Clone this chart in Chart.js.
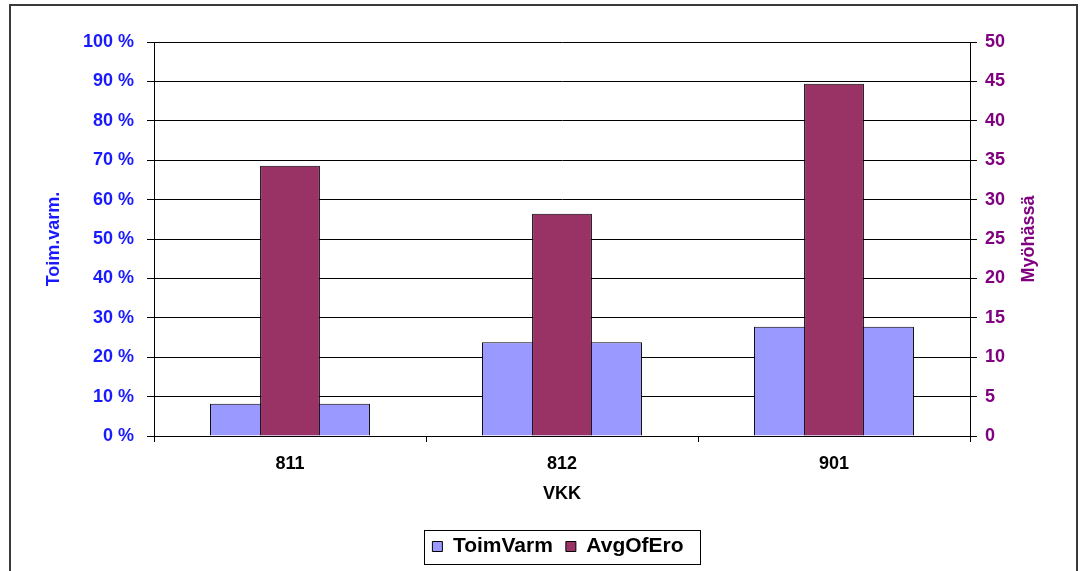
<!DOCTYPE html>
<html>
<head>
<meta charset="utf-8">
<script src="https://cdn.jsdelivr.net/npm/chart.js@4/dist/chart.umd.min.js"></script>
<style>
  html, body { margin: 0; padding: 0; background: #ffffff; }
  #wrap { width: 1082px; height: 571px; position: relative; }
</style>
</head>
<body>
<div id="wrap"><canvas id="c" width="1082" height="571"></canvas></div>
<script>
// Weeks (VKK) on the category axis
const categories = ['811', '812', '901'];
// Delivery reliability, percent (left axis)
const toimVarm = [8.2, 23.8, 27.7];
// Average lateness (right axis)
const avgOfEro = [34.3, 28.2, 44.7];
// Axis ranges and tick steps
const leftTicks = { min: 0, max: 100, step: 10 };
const rightTicks = { min: 0, max: 50, step: 5 };

const FONT = "'Liberation Sans', Arial, sans-serif";
const BLUE = '#1a1aff';
const PURPLE = '#800080';

// Outer frame, right-axis title and the box around the legend
const decor = {
  id: 'decor',
  beforeDraw(chart) {
    const ctx = chart.ctx;
    ctx.save();
    ctx.fillStyle = '#ffffff';
    ctx.fillRect(0, 0, chart.width, chart.height);
    ctx.restore();
  },
  afterDraw(chart) {
    const ctx = chart.ctx;
    ctx.save();
    ctx.strokeStyle = '#3a3a3a';
    ctx.lineWidth = 2;
    ctx.strokeRect(10, 5, 1067, 700);

    // right axis title, reading bottom to top
    const y2 = chart.scales.y2;
    ctx.translate(1029, (y2.top + y2.bottom) / 2);
    ctx.rotate(-Math.PI / 2);
    ctx.fillStyle = PURPLE;
    ctx.font = "bold 18px " + FONT;
    ctx.textAlign = 'center';
    ctx.textBaseline = 'middle';
    ctx.fillText('Myöhässä', 0, 0);
    ctx.restore();

    // legend frame
    const boxes = chart.legend.legendHitBoxes;
    if (boxes && boxes.length) {
      const first = boxes[0], last = boxes[boxes.length - 1];
      const cy = first.top + first.height / 2;
      ctx.save();
      ctx.strokeStyle = '#000000';
      ctx.lineWidth = 1;
      const x0 = Math.round(first.left - 8) + 0.5;
      const x1 = Math.round(last.left + last.width + 16) + 0.5;
      const yt = Math.round(cy - 17) + 0.5;
      const yb = Math.round(cy + 17) + 0.5;
      ctx.strokeRect(x0, yt, x1 - x0, yb - yt);
      ctx.restore();
    }
  }
};

new Chart(document.getElementById('c'), {
  type: 'bar',
  data: {
    labels: categories,
    datasets: [
      {
        label: 'ToimVarm',
        data: toimVarm,
        yAxisID: 'y',
        backgroundColor: '#9999ff',
        borderColor: '#000000',
        borderWidth: 1,
        grouped: false,
        categoryPercentage: 1,
        barPercentage: 0.588,
        order: 1
      },
      {
        label: 'AvgOfEro',
        data: avgOfEro,
        yAxisID: 'y2',
        backgroundColor: '#993366',
        borderColor: '#000000',
        borderWidth: 1,
        grouped: false,
        categoryPercentage: 1,
        barPercentage: 0.22,
        order: 0
      }
    ]
  },
  options: {
    responsive: false,
    animation: false,
    devicePixelRatio: 1,
    layout: { padding: { top: 42, right: 0, bottom: 4, left: 34 } },
    plugins: {
      tooltip: { enabled: false },
      legend: {
        position: 'bottom',
        labels: {
          color: '#000000',
          font: { family: FONT, size: 21, weight: 'bold' },
          boxWidth: 10,
          boxHeight: 10,
          padding: 13,
          sort: (a, b) => a.datasetIndex - b.datasetIndex,
          generateLabels(chart) {
            return chart.data.datasets.map((ds, i) => ({
              text: ds.label,
              fillStyle: ds.backgroundColor,
              strokeStyle: '#000000',
              lineWidth: 1,
              hidden: false,
              datasetIndex: i,
              fontColor: '#000000'
            }));
          }
        }
      }
    },
    scales: {
      x: {
        position: 'bottom',
        afterFit(scale) { scale.height = 87; },
        border: { display: true, color: '#000000', width: 1 },
        grid: { display: true, drawOnChartArea: false, drawTicks: true, tickLength: 6, color: '#000000', offset: true },
        ticks: { color: '#000000', padding: 11, font: { family: FONT, size: 18, weight: 'bold' } },
        title: { display: true, text: 'VKK', color: '#000000', padding: { top: 0, bottom: 18 }, font: { family: FONT, size: 18, weight: 'bold' } }
      },
      y: {
        position: 'left',
        min: leftTicks.min,
        max: leftTicks.max,
        afterFit(scale) { scale.width = 120; },
        border: { display: true, color: '#000000', width: 1 },
        grid: { color: '#000000', lineWidth: 1, tickLength: 7, drawTicks: true },
        ticks: {
          stepSize: leftTicks.step,
          color: BLUE,
          padding: 13,
          font: { family: FONT, size: 18, weight: 'bold' },
          callback: (v) => v + ' %'
        },
        title: { display: true, text: 'Toim.varm.', color: BLUE, padding: { top: 9, bottom: 0 }, font: { family: FONT, size: 18, weight: 'bold' } }
      },
      y2: {
        position: 'right',
        min: rightTicks.min,
        max: rightTicks.max,
        afterFit(scale) { scale.width = 112; },
        border: { display: true, color: '#000000', width: 1 },
        grid: { drawOnChartArea: false, drawTicks: true, tickLength: 7, color: '#000000' },
        ticks: {
          stepSize: rightTicks.step,
          color: PURPLE,
          padding: 8,
          font: { family: FONT, size: 18, weight: 'bold' }
        }
      }
    }
  },
  plugins: [decor]
});
</script>
</body>
</html>
